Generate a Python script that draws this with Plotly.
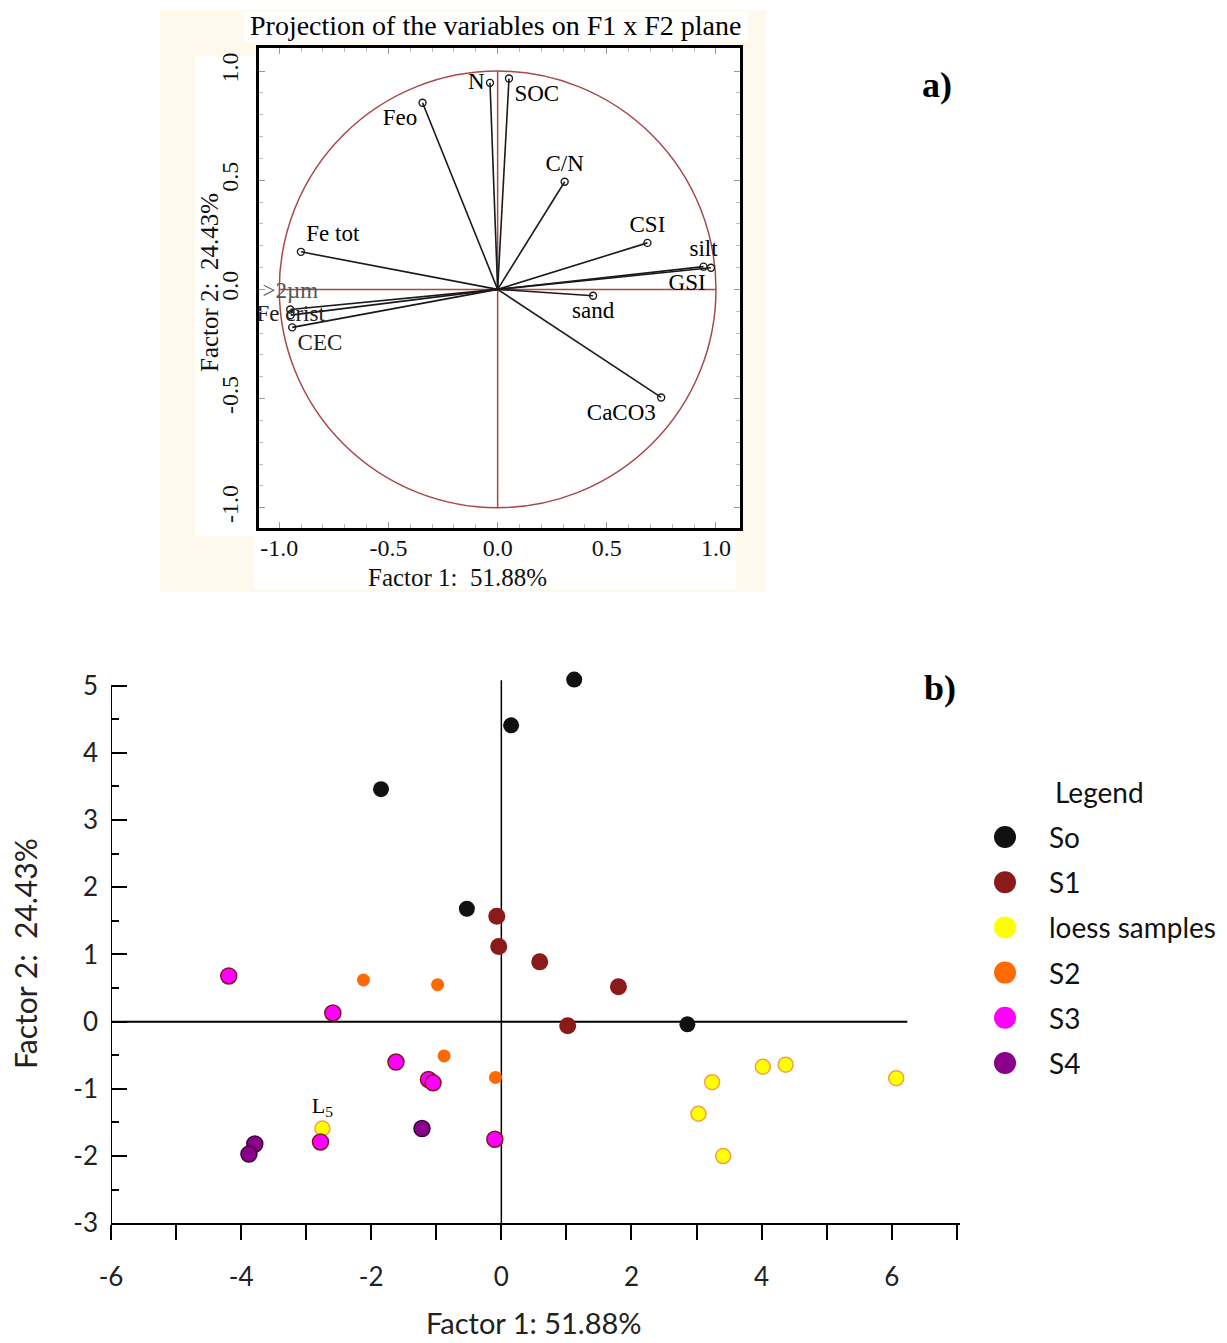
import plotly.graph_objects as go

W, H = 1227, 1343
OFF = 8  # page body margin of the html page

# ---------------- Panel a: projection of the variables ----------------
var_names = ["N", "SOC", "Feo", "C/N", "CSI", "Fe tot", "silt", "GSI",
             "sand", "CaCO3", ">2µm", "Fe crist", "CEC"]
f1_load = [-0.035, 0.052, -0.344, 0.307, 0.686, -0.901, 0.943, 0.977,
           0.437, 0.749, -0.950, -0.948, -0.941]
f2_load = [0.946, 0.966, 0.855, 0.493, 0.213, 0.172, 0.104, 0.099,
           -0.029, -0.495, -0.092, -0.118, -0.174]
label_pos = ["middle left", "bottom right", "bottom left", "top center",
             "top center", "top right", "top center", "bottom left",
             "bottom center", "bottom left", "top center", "middle center",
             "bottom right"]
label_col = ["black"] * 10 + ["#555555", "#222222", "#222222"]

a_ticks = [-1.0, -0.5, 0.0, 0.5, 1.0]
a_ticktext = ["-1.0", "-0.5", "0.0", "0.5", "1.0"]
a_minor = [round(-1.0 + 0.1 * i, 1) for i in range(21)]

# ---------------- Panel b: scores of the samples ----------------
groups = ["So", "S1", "loess samples", "S2", "S3", "S4"]
So_x = [1.12, 0.15, -1.85, -0.53, 2.86]
So_y = [5.09, 4.41, 3.46, 1.68, -0.04]
S1_x = [-0.07, -0.04, 0.59, 1.80, 1.02]
S1_y = [1.57, 1.12, 0.89, 0.52, -0.06]
loess_x = [-2.75, 3.24, 4.02, 4.37, 6.07, 3.03, 3.41]
loess_y = [-1.59, -0.90, -0.67, -0.64, -0.84, -1.37, -2.00]
loess_lab = ["L<sub>5</sub>", "", "", "", "", "", ""]
S2_x = [-2.12, -0.98, -0.88, -0.09]
S2_y = [0.62, 0.55, -0.51, -0.83]
S3_x = [-4.19, -2.59, -1.62, -1.12, -1.05, -2.78, -0.10]
S3_y = [0.68, 0.13, -0.60, -0.86, -0.91, -1.79, -1.75]
S4_x = [-3.79, -3.88, -1.22]
S4_y = [-1.82, -1.97, -1.59]

b_xticks = [-6, -4, -2, 0, 2, 4, 6]
b_xticktext = ["-6", "-4", "-2", "0", "2", "4", "6"]
b_xminor = [-5, -3, -1, 1, 3, 5, 7]
b_yticks = [-3, -2, -1, 0, 1, 2, 3, 4, 5]
b_yticktext = ["-3", "-2", "-1", "0", "1", "2", "3", "4", "5"]
b_yminor = [-2.5, -1.5, -0.5, 0.5, 1.5, 2.5, 3.5, 4.5]

col = {"So": "#111111", "S1": "#8B1A1A", "loess samples": "#FFFF00",
       "S2": "#FF6A00", "S3": "#FF00FF", "S4": "#8B008B"}

SERIF = "Liberation Serif"
SANS = "Lato"


def PX(px):
    return (px - OFF) / W


def PY(py):
    return 1 - (py - OFF) / H


fig = go.Figure()

# vectors
vx, vy = [], []
for x, y in zip(f1_load, f2_load):
    vx += [0, x, None]
    vy += [0, y, None]
fig.add_trace(go.Scatter(x=vx, y=vy, mode="lines", xaxis="x", yaxis="y",
                         line=dict(color="#1a1a1a", width=1.6),
                         hoverinfo="skip", showlegend=False))
fig.add_trace(go.Scatter(x=f1_load, y=f2_load, mode="markers+text",
                         xaxis="x", yaxis="y", text=var_names,
                         textposition=label_pos,
                         textfont=dict(family=SERIF, size=23, color=label_col),
                         marker=dict(symbol="circle-open", size=7,
                                     color="#1a1a1a", line=dict(width=1.4)),
                         cliponaxis=False, showlegend=False))

# panel b traces
series = [("So", So_x, So_y, 16, 0, "#111111"),
          ("S1", S1_x, S1_y, 17, 0, "#8B1A1A"),
          ("loess samples", loess_x, loess_y, 15, 1.5, "#F2A04A"),
          ("S2", S2_x, S2_y, 13, 0, "#FF6A00"),
          ("S3", S3_x, S3_y, 16, 1.5, "#7A1A1A"),
          ("S4", S4_x, S4_y, 16, 1.5, "#3A003A")]
for name, xs, ys, sz, lw, lc in series:
    if name == "loess samples":
        kw = dict(mode="markers+text", text=loess_lab,
                  textposition="top center",
                  textfont=dict(family=SERIF, size=22, color="black"))
    else:
        kw = dict(mode="markers")
    fig.add_trace(go.Scatter(x=xs, y=ys, xaxis="x2", yaxis="y2", name=name,
                             marker=dict(size=sz, color=col[name],
                                         line=dict(width=lw, color=lc)),
                             cliponaxis=False, showlegend=False, **kw))

# legend swatches
fig.add_trace(go.Scatter(x=[0] * len(groups), y=list(range(len(groups))),
                         xaxis="x3", yaxis="y3", mode="markers",
                         marker=dict(size=22, color=[col[g] for g in groups],
                                     line=dict(width=0)),
                         cliponaxis=False, showlegend=False,
                         hoverinfo="skip"))

shapes = [
    # panel a background
    dict(type="rect", xref="paper", yref="paper", x0=PX(160), x1=PX(766),
         y0=PY(592), y1=PY(10), fillcolor="#FEF9EC", line=dict(width=0),
         layer="below"),
    dict(type="rect", xref="paper", yref="paper", x0=PX(244), x1=PX(748),
         y0=PY(42), y1=PY(12), fillcolor="white", line=dict(width=0),
         layer="below"),
    dict(type="rect", xref="paper", yref="paper", x0=PX(195), x1=PX(259),
         y0=PY(536), y1=PY(56), fillcolor="white", line=dict(width=0),
         layer="below"),
    dict(type="rect", xref="paper", yref="paper", x0=PX(254), x1=PX(736),
         y0=PY(589), y1=PY(528), fillcolor="white", line=dict(width=0),
         layer="below"),
    dict(type="rect", xref="paper", yref="paper", x0=PX(259), x1=PX(740),
         y0=PY(528), y1=PY(47.7), fillcolor="white", line=dict(width=0),
         layer="below"),
    # correlation circle and red cross
    dict(type="circle", xref="x", yref="y", x0=-1, x1=1, y0=-1, y1=1,
         line=dict(color="#A8484C", width=1.5), layer="below"),
    dict(type="line", xref="x", yref="y", x0=-1, x1=1, y0=0, y1=0,
         line=dict(color="#A8484C", width=1.5), layer="below"),
    dict(type="line", xref="x", yref="y", x0=0, x1=0, y0=-1, y1=1,
         line=dict(color="#A8484C", width=1.5), layer="below"),
    # panel b spine and zero lines
    dict(type="line", xref="x2", yref="y2", x0=-6, x1=-6, y0=-3, y1=5,
         line=dict(color="black", width=2)),
    dict(type="line", xref="x2", yref="y2", x0=-6, x1=6.24, y0=0, y1=0,
         line=dict(color="black", width=2), layer="below"),
    dict(type="line", xref="x2", yref="y2", x0=0, x1=0, y0=-3, y1=5.08,
         line=dict(color="black", width=1.5), layer="below"),
]

ann = [
    dict(text="Projection of the variables on F1 x F2 plane", x=PX(495),
         y=PY(26), font=dict(family=SERIF, size=28, color="black")),
    dict(text="Factor 1:\u00a0 51.88%", x=PX(457), y=PY(578),
         font=dict(family=SERIF, size=25, color="#111")),
    dict(text="Factor 2:\u00a0 24.43%", x=PX(209), y=PY(283), textangle=-90,
         font=dict(family=SERIF, size=25, color="#111")),
    dict(text="<b>a)</b>", x=PX(937), y=PY(85),
         font=dict(family=SERIF, size=36, color="black")),
    dict(text="<b>b)</b>", x=PX(940), y=PY(688),
         font=dict(family=SERIF, size=36, color="black")),
    dict(text="Factor 1: 51.88%", x=PX(534), y=PY(1322),
         font=dict(family=SANS, size=29, color="#222")),
    dict(text="Factor 2:\u00a0 24.43%", x=PX(25), y=PY(954), textangle=-90,
         font=dict(family=SANS, size=30, color="#222")),
]
for a in ann:
    a.update(xref="paper", yref="paper", xanchor="center", yanchor="middle",
             showarrow=False)

ann.append(dict(text="Legend", x=2.26, y=-1, xref="x3", yref="y3",
                xanchor="center", yanchor="middle", showarrow=False,
                font=dict(family=SANS, size=28, color="#111")))
for i, g in enumerate(groups):
    ann.append(dict(text=g, x=1, y=i, xref="x3", yref="y3", xanchor="left",
                    yanchor="middle", showarrow=False,
                    font=dict(family=SANS, size=28, color="#111")))

fig.update_layout(
    width=W, height=H, margin=dict(l=0, r=0, t=0, b=0, autoexpand=False),
    paper_bgcolor="white", plot_bgcolor="rgba(0,0,0,0)",
    showlegend=False, shapes=shapes, annotations=ann,
    xaxis=dict(domain=[PX(259), PX(740)], range=[-1.093, 1.11],
               anchor="y", showgrid=False, zeroline=False, automargin=False,
               showline=True, linecolor="black", linewidth=3, mirror="ticks",
               ticks="inside", ticklen=6, tickcolor="#999", tickwidth=1,
               tickmode="array", tickvals=a_ticks, ticktext=a_ticktext,
               minor=dict(tickmode="array", tickvals=a_minor, ticks="inside",
                          ticklen=4, tickcolor="#bbb", showgrid=False),
               tickfont=dict(family=SERIF, size=24, color="#111"),
               ticklabelstandoff=-4, fixedrange=True),
    yaxis=dict(domain=[PY(528), PY(47.7)], range=[-1.093, 1.107],
               anchor="x", showgrid=False, zeroline=False, automargin=False,
               showline=True, linecolor="black", linewidth=3, mirror="ticks",
               ticks="inside", ticklen=6, tickcolor="#999", tickwidth=1,
               tickmode="array", tickvals=a_ticks, ticktext=a_ticktext,
               minor=dict(tickmode="array", tickvals=a_minor, ticks="inside",
                          ticklen=4, tickcolor="#bbb", showgrid=False),
               tickangle=-90,
               tickfont=dict(family=SERIF, size=24, color="#111"),
               ticklabelstandoff=8, fixedrange=True),
    xaxis2=dict(domain=[PX(111), PX(960)], range=[-6, 7.05], anchor="y2",
                showgrid=False, zeroline=False, showline=True,
                automargin=False,
                linecolor="black", linewidth=2, ticks="outside", ticklen=15,
                tickwidth=1.5, tickcolor="black",
                tickmode="array", tickvals=b_xticks, ticktext=b_xticktext,
                minor=dict(tickmode="array", tickvals=b_xminor,
                           ticks="outside", ticklen=15, tickwidth=1.5,
                           tickcolor="black", showgrid=False),
                tickfont=dict(family=SANS, size=26, color="#222"),
                ticklabelstandoff=14, fixedrange=True),
    yaxis2=dict(domain=[PY(1223.3), PY(677.6)], range=[-3, 5.12],
                anchor="x2", showgrid=False, zeroline=False, showline=False,
                automargin=False,
                ticks="inside", ticklen=16, tickwidth=1.5, tickcolor="black",
                tickmode="array", tickvals=b_yticks, ticktext=b_yticktext,
                minor=dict(tickmode="array", tickvals=b_yminor,
                           ticks="inside", ticklen=8, tickwidth=1.5,
                           tickcolor="black", showgrid=False),
                tickfont=dict(family=SANS, size=26, color="#222"),
                ticklabelstandoff=12, fixedrange=True),
    xaxis3=dict(domain=[PX(963), PX(1227)], range=[-1, 5.2857],
                anchor="y3", visible=False, fixedrange=True,
                automargin=False),
    yaxis3=dict(domain=[PY(1085.6), PY(769.2)], range=[5.5, -1.5],
                anchor="x3", visible=False, fixedrange=True,
                automargin=False),
)

fig.write_html("out.html")
